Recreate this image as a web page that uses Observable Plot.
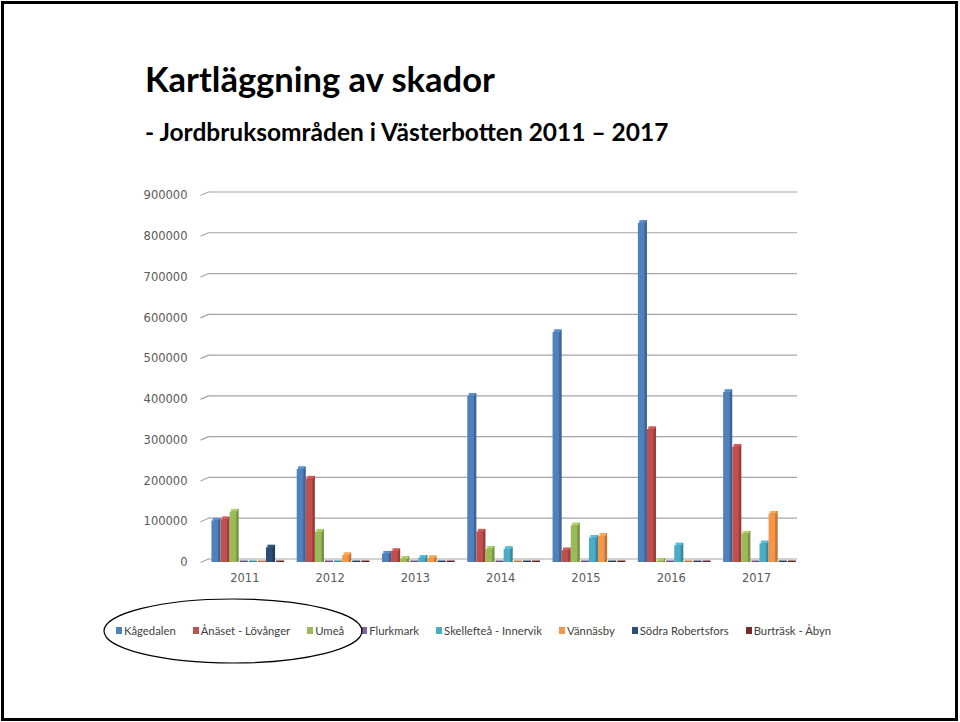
<!DOCTYPE html>
<html>
<head>
<meta charset="utf-8">
<script src="https://cdn.jsdelivr.net/npm/d3@7"></script>
<script src="https://cdn.jsdelivr.net/npm/@observablehq/plot@0.6"></script>
<style>
  html, body { margin: 0; padding: 0; background: #fff; }
  #page { position: relative; width: 960px; height: 722px; overflow: hidden; }
  #frame { position: absolute; left: 1px; top: 1px; width: 957px; height: 720px; box-sizing: border-box; border: 3px solid #000; }
  #title { position: absolute; left: 145px; top: 58px; font-family: "Lato", sans-serif; font-weight: bold; font-size: 34.5px; color: #000; white-space: nowrap; }
  #subtitle { position: absolute; left: 145px; top: 117px; font-family: "Lato", sans-serif; font-weight: bold; font-size: 24.5px; color: #000; white-space: nowrap; }
  #chart { position: absolute; left: 0; top: 180px; }
  #legend { position: absolute; left: 116px; top: 624px; display: flex; gap: 17px; font-family: "Lato", sans-serif; font-size: 11.3px; color: #404040; white-space: nowrap; }
  #legend .item { display: flex; align-items: center; gap: 2px; }
  #legend .sw { width: 6px; height: 7px; display: inline-block; }
  #ellipse { position: absolute; left: 100px; top: 596px; }
</style>
</head>
<body>
<div id="page">
  <div id="frame"></div>
  <div id="title">Kartläggning av skador</div>
  <div id="subtitle">- Jordbruksområden i Västerbotten 2011 – 2017</div>
  <div id="chart"></div>
  <div id="legend"></div>
  <svg id="ellipse" width="266" height="72"><ellipse cx="133" cy="35" rx="129" ry="32" fill="none" stroke="#000" stroke-width="1.2"/></svg>
</div>
<script>
// ---- data ----
const years = ["2011", "2012", "2013", "2014", "2015", "2016", "2017"];
const seriesNames = ["Kågedalen", "Ånäset - Lövånger", "Umeå", "Flurkmark", "Skellefteå - Innervik", "Vännäsby", "Södra Robertsfors", "Burträsk - Åbyn"];
const seriesColors = ["#4F81BD", "#C0504D", "#9BBB59", "#8064A2", "#4BACC6", "#F79646", "#2C4D75", "#772C2A"];
const kagedalen   = [102000, 228000, 21000, 408000, 564000, 832000, 417000];
const anaset      = [105000, 205000, 27000, 75000, 29000, 326000, 283000];
const umea        = [124000, 74000, 8000, 33000, 90000, 3000, 70000];
const flurkmark   = [0, 0, 0, 0, 0, 0, 0];
const skelleftea  = [0, 0, 11000, 32000, 60000, 41000, 46000];
const vannasby    = [0, 17000, 9500, 0, 64000, 0, 119000];
const sodra       = [36000, 0, 0, 0, 0, 0, 0];
const burtrask    = [0, 0, 0, 0, 0, 0, 0];
const yTicks = [0, 100000, 200000, 300000, 400000, 500000, 600000, 700000, 800000, 900000];

const seriesValues = [kagedalen, anaset, umea, flurkmark, skelleftea, vannasby, sodra, burtrask];

// ---- layout constants (x in "year units", each year spans 1) ----
const groupStart = 0.134;   // left gap of a year group
const barW = 0.1066;        // width of one bar
const depthX = 0.094;       // 3D wall depth (x)
const depthY = 8600;        // 3D wall depth (y, value units)

const rows = [];
seriesValues.forEach((vals, si) => {
  vals.forEach((v, yi) => {
    const x1 = yi + groupStart + si * barW;
    rows.push({year: years[yi], series: seriesNames[si], value: v, x1, x2: x1 + barW,
      front: seriesColors[si],
      side: d3.color(seriesColors[si]).darker(0.7).formatHex(),
      top: d3.color(seriesColors[si]).brighter(0.35).formatHex()});
  });
});
const zeroRows = rows.filter(d => d.value === 0);
const posRows = rows.filter(d => d.value > 0);

const chart = Plot.plot({
  width: 960,
  height: 420,
  marginLeft: 200,
  marginRight: 163,
  marginTop: 15,
  marginBottom: 38,
  style: {fontFamily: "DejaVu Sans", fontSize: "11.5px", color: "#595959", background: "transparent"},
  x: {type: "linear", domain: [0, 7]},
  y: {domain: [0, 900000]},
  marks: [
    // back-wall gridlines
    Plot.ruleY(yTicks, {y: d => d + depthY, x1: depthX, x2: 7, stroke: "#A6A6A6", strokeWidth: 1.2}),
    // perspective connectors at the left
    Plot.link(yTicks, {x1: 0, y1: d => d, x2: depthX, y2: d => d + depthY, stroke: "#A6A6A6", strokeWidth: 1.2}),
    // zero-height bars: thin dark slabs
    Plot.rectY(zeroRows, {x1: "x1", x2: "x2", y1: 0, y2: 0, fill: "side", insetLeft: 1, insetTop: -1.5}),
    // bar side faces
    Plot.rectY(posRows, {x1: "x1", x2: "x2", y1: 0, y2: "value", fill: "side", insetLeft: 2.5, insetTop: -2.5}),
    // bar top faces
    Plot.rectY(posRows, {x1: "x1", x2: "x2", y1: "value", y2: "value", fill: "top", insetLeft: 1.3, insetRight: 1.2, insetTop: -2.5}),
    // bar front faces
    Plot.rectY(posRows, {x1: "x1", x2: "x2", y1: 0, y2: "value", fill: "front", insetRight: 2.5}),
    Plot.axisY({ticks: yTicks, tickSize: 0, tickPadding: 13, tickFormat: d => String(d), label: null}),
    Plot.axisX({ticks: years.map((_, i) => i + 0.52), tickSize: 0, tickPadding: 11,
      tickFormat: d => years[Math.round(d - 0.52)], label: null})
  ]
});
document.getElementById("chart").appendChild(chart);

// ---- legend ----
const legend = document.getElementById("legend");
seriesNames.forEach((name, i) => {
  const item = document.createElement("span");
  item.className = "item";
  const sw = document.createElement("span");
  sw.className = "sw";
  sw.style.background = seriesColors[i];
  const tx = document.createElement("span");
  tx.textContent = name;
  item.appendChild(sw);
  item.appendChild(tx);
  legend.appendChild(item);
});
</script>
</body>
</html>
